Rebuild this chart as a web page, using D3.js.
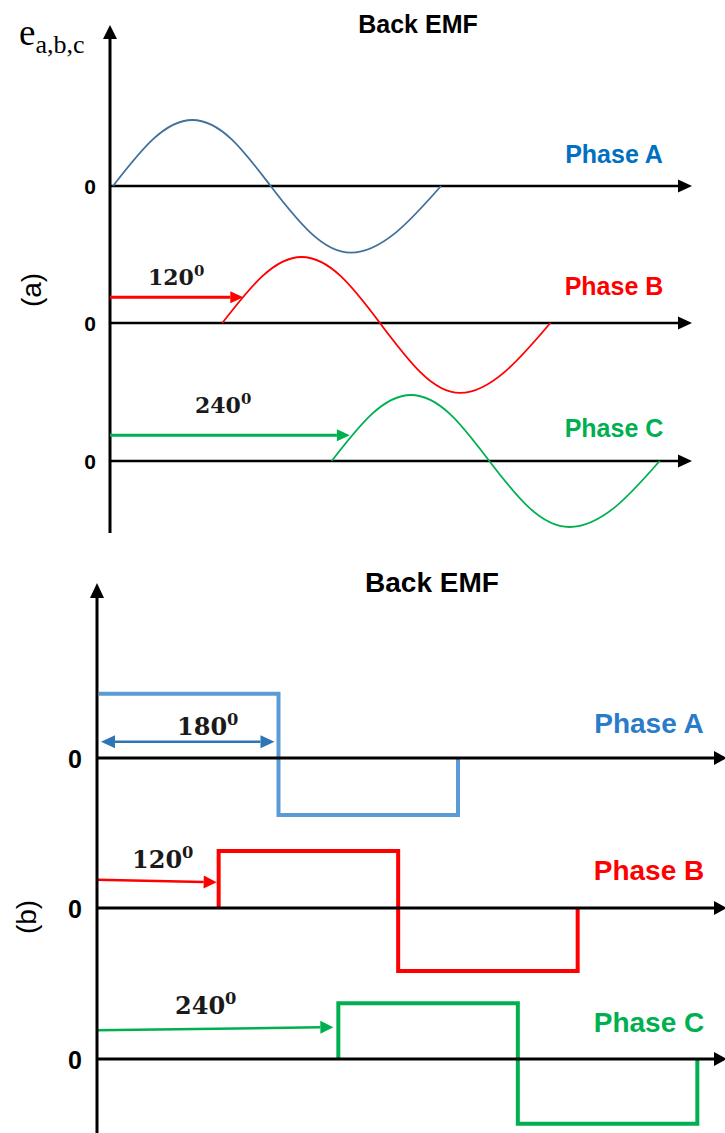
<!DOCTYPE html>
<html>
<head>
<meta charset="utf-8">
<script src="https://cdnjs.cloudflare.com/ajax/libs/d3/7.8.5/d3.min.js"></script>
<style>
body { margin: 0; background: #fff; }
</style>
</head>
<body>
<svg id="chart" width="725" height="1133"></svg>
<script>
// phases
var phaseNames = ["Phase A", "Phase B", "Phase C"];
var phaseShift = [0, 120, 240];

// sine back emf, one period (degrees after each phase start)
var sineDeg = [0, 44, 87, 130, 173, 217, 261, 310, 360];
var sineA = [0, 0.71, 1, 0.71, 0, -0.71, -1.01, -0.71, 0];
var sineB = [0, 0.71, 1, 0.71, 0, -0.74, -1.06, -0.74, 0];
var sineC = [0, 0.71, 1, 0.71, 0, -0.71, -1, -0.71, 0];

// square back emf, panel (b)
var squareDeg = [0, 180, 360];
var squareHigh = [1.07, 0.95, 0.93];
var squareLow = [-0.95, -1.05, -1.08];

// shift annotations
var topShiftLabels = ["120", "240"];   // phases B, C
var topArrowEnd = [143, 260];
var topArrowLevel = 0.39;
var botShiftLabels = ["180", "120", "240"];
var botArrowStart = [2, null, null];
var botArrowEnd = [176, 118, 235];
var botArrowLevel = [[0.27, 0.27], [0.47, 0.43], [0.48, 0.53]];

var sineColors = ["#41719c", "#ff0000", "#00b050"];
var topTextColors = ["#0070c0", "#ff0000", "#00b050"];
var squareColors = ["#5b9bd5", "#ff0000", "#00b050"];
var botTextColors = ["#2a7bc9", "#ff0000", "#00b050"];

var svg = d3.select("#chart");
var sans = "Arial, 'Liberation Sans', sans-serif";
var serif = "'DejaVu Serif', serif";

// draws a line with a filled triangle head at (x2,y2), optional head at start too
function arrow(g, x1, y1, x2, y2, color, w, L, hw, both) {
	var dx = x2 - x1, dy = y2 - y1, len = Math.sqrt(dx * dx + dy * dy);
	var ux = dx / len, uy = dy / len, nx = -uy, ny = ux;
	var sx = both ? x1 + ux * L : x1, sy = both ? y1 + uy * L : y1;
	g.append("line")
		.attr("x1", sx).attr("y1", sy)
		.attr("x2", x2 - ux * L).attr("y2", y2 - uy * L)
		.attr("stroke", color).attr("stroke-width", w);
	function head(tx, ty, dirx, diry) {
		var bx = tx - dirx * L, by = ty - diry * L;
		g.append("path")
			.attr("d", "M" + tx + "," + ty + "L" + (bx + nx * hw) + "," + (by + ny * hw) +
				"L" + (bx - nx * hw) + "," + (by - ny * hw) + "Z")
			.attr("fill", color);
	}
	head(x2, y2, ux, uy);
	if (both) head(x1, y1, -ux, -uy);
}

function shiftText(g, x, y, label, size) {
	var t = g.append("text")
		.attr("x", x).attr("y", y)
		.attr("font-family", serif).attr("font-weight", "bold")
		.attr("font-size", size).attr("fill", "#1a1a1a")
		.text(label);
	t.append("tspan")
		.attr("dy", -size * 0.42)
		.attr("font-size", size * 0.68)
		.text("0");
}

// ---------- panel (a) ----------
var gTop = svg.append("g");
var topAxisX = 110;
var topZero = [186, 323, 461];
var sineVals = [sineA, sineB, sineC];
var xa = d3.scaleLinear().domain([0, 360]).range([113, 441]);

gTop.append("text")
	.attr("x", 418).attr("y", 33)
	.attr("text-anchor", "middle")
	.attr("font-family", sans).attr("font-weight", "bold").attr("font-size", 25)
	.text("Back EMF");

var eLab = gTop.append("text")
	.attr("x", 19).attr("y", 45)
	.attr("font-family", "'Liberation Serif', serif").attr("font-size", 37)
	.text("e");
eLab.append("tspan").attr("dy", 8).attr("font-size", 26).text("a,b,c");

gTop.append("text")
	.attr("transform", "translate(31,290) rotate(-90)")
	.attr("text-anchor", "middle").attr("dominant-baseline", "central")
	.attr("font-family", sans).attr("font-size", 28)
	.text("(a)");

arrow(gTop, topAxisX, 533, topAxisX, 25, "#000", 3, 14, 7, false);

topZero.forEach(function(z, i) {
	var ya = d3.scaleLinear().domain([-1, 1]).range([z + 66, z - 66]);
	arrow(gTop, topAxisX, z, 692, z, "#000", 2.5, 14, 6.5, false);
	gTop.append("text")
		.attr("x", 90).attr("y", z + 8)
		.attr("text-anchor", "middle")
		.attr("font-family", sans).attr("font-weight", "bold").attr("font-size", 21)
		.text("0");

	var vals = sineVals[i];
	var line = d3.line()
		.x(function(d) { return xa(d + phaseShift[i]); })
		.y(function(d, k) { return ya(vals[k]); })
		.curve(d3.curveNatural);
	gTop.append("path")
		.attr("d", line(sineDeg))
		.attr("fill", "none")
		.attr("stroke", sineColors[i]).attr("stroke-width", 1.8);

	gTop.append("text")
		.attr("x", 614).attr("y", [163, 295, 437][i])
		.attr("text-anchor", "middle")
		.attr("font-family", sans).attr("font-weight", "bold").attr("font-size", 25)
		.attr("fill", topTextColors[i])
		.text(phaseNames[i]);

	if (i > 0) {
		var yl = ya(topArrowLevel);
		arrow(gTop, topAxisX, yl, xa(topArrowEnd[i - 1]), yl, sineColors[i], 3, 13, 6, false);
		shiftText(gTop, [148, 195][i - 1], [285, 413][i - 1], topShiftLabels[i - 1], 22);
	}
});

// ---------- panel (b) ----------
var gBot = svg.append("g");
var botAxisX = 97;
var botZero = [758, 908, 1059];
var xb = d3.scaleLinear().domain([0, 360]).range([99, 458]);

gBot.append("text")
	.attr("x", 432).attr("y", 592)
	.attr("text-anchor", "middle")
	.attr("font-family", sans).attr("font-weight", "bold").attr("font-size", 28)
	.text("Back EMF");

gBot.append("text")
	.attr("transform", "translate(26,917) rotate(-90)")
	.attr("text-anchor", "middle").attr("dominant-baseline", "central")
	.attr("font-family", sans).attr("font-size", 28)
	.text("(b)");

botZero.forEach(function(z, i) {
	var yb = d3.scaleLinear().domain([-1, 1]).range([z + 60, z - 60]);
	var pts = [
		[squareDeg[0], 0], [squareDeg[0], squareHigh[i]],
		[squareDeg[1], squareHigh[i]], [squareDeg[1], squareLow[i]],
		[squareDeg[2], squareLow[i]], [squareDeg[2], 0]
	];
	// phase A starts on the axis itself, no rising edge drawn there
	if (phaseShift[i] === 0) pts.shift();
	var line = d3.line()
		.x(function(d) { return xb(d[0] + phaseShift[i]); })
		.y(function(d) { return yb(d[1]); });
	gBot.append("path")
		.attr("d", line(pts))
		.attr("fill", "none")
		.attr("stroke", squareColors[i]).attr("stroke-width", 4)
		.attr("stroke-linejoin", "miter");

	arrow(gBot, botAxisX, z, 727, z, "#000", 2.8, 13, 7, false);
	gBot.append("text")
		.attr("x", 75).attr("y", z + 10)
		.attr("text-anchor", "middle")
		.attr("font-family", sans).attr("font-weight", "bold").attr("font-size", 25)
		.text("0");

	gBot.append("text")
		.attr("x", 649).attr("y", [733, 880, 1032][i])
		.attr("text-anchor", "middle")
		.attr("font-family", sans).attr("font-weight", "bold").attr("font-size", 28)
		.attr("fill", botTextColors[i])
		.text(phaseNames[i]);

	var lv = botArrowLevel[i];
	if (i === 0) {
		arrow(gBot, xb(botArrowStart[0]), yb(lv[0]), xb(botArrowEnd[0]), yb(lv[1]),
			"#2e75b6", 2.5, 14, 6.5, true);
	} else {
		arrow(gBot, botAxisX, yb(lv[0]), xb(botArrowEnd[i]), yb(lv[1]),
			squareColors[i], 2.5, 13, 6.5, false);
	}
	shiftText(gBot, [177, 132, 175][i], [735, 868, 1014][i], botShiftLabels[i], 24);
});

arrow(gBot, botAxisX, 1133, botAxisX, 583, "#000", 3, 15, 7, false);
</script>
</body>
</html>
